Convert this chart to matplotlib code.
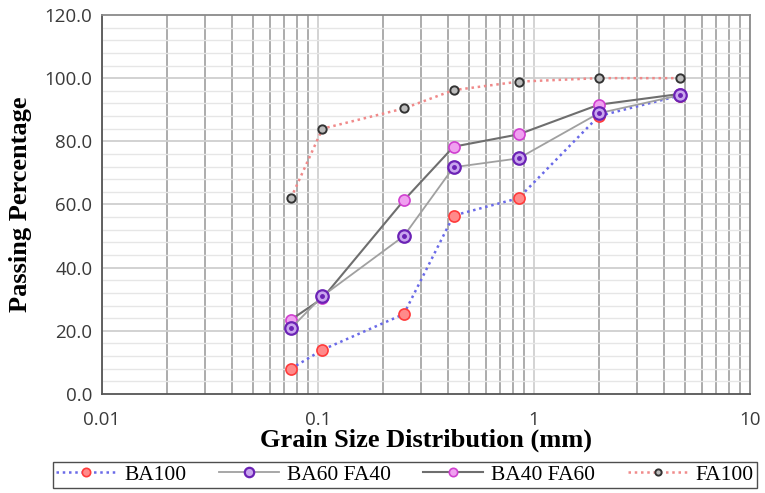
import matplotlib.pyplot as plt
import numpy as np
from matplotlib.ticker import FixedLocator, FuncFormatter

# sieve sizes (mm) and passing percentages
sizes = [0.075, 0.105, 0.25, 0.425, 0.85, 2.0, 4.75]
ba100 = [8.0, 14.0, 25.3, 56.5, 62.0, 88.0, 94.5]
ba60_fa40 = [20.8, 31.0, 50.0, 71.8, 74.6, 88.9, 94.6]
ba40_fa60 = [23.5, 30.3, 61.3, 78.3, 82.2, 91.6, 95.0]
fa100 = [62.0, 84.0, 90.4, 96.2, 98.9, 100.0, 100.0]

y_ticks = [0, 20, 40, 60, 80, 100, 120]
x_ticks = [0.01, 0.1, 1, 10]
x_labels = ["0.01", "0.1", "1", "10"]

fig = plt.figure(figsize=(7.65, 4.93), dpi=100)
ax = fig.add_axes([0.1333, 0.2008, 0.8467, 0.7688])

ax.set_xscale("log")
ax.set_xlim(0.01, 10)
ax.set_ylim(0, 120)

# grid: major x lines light, minor x lines darker (as in the original)
minor_x = [m * d for d in (0.01, 0.1, 1) for m in range(2, 10)]
for xv in minor_x:
    ax.axvline(xv, color="#a6a6a6", lw=1.3, zorder=0)
for xv in x_ticks:
    ax.axvline(xv, color="#d0d0d0", lw=1.3, zorder=0)
for yv in np.arange(4, 120, 4):
    if yv % 20:
        ax.axhline(yv, color="#e6e6e6", lw=1.0, zorder=0)
    else:
        ax.axhline(yv, color="#cfcfcf", lw=1.3, zorder=0)

ax.plot(sizes, ba100, ls=(0, (1, 1.5)), color="#6a6ae8", lw=1.8,
        marker="o", ms=8, mfc="#ff8a8a", mec="#ff3b3b", mew=1.2,
        label="BA100", zorder=3)
ax.plot(sizes, ba60_fa40, ls="-", color="#a0a0a0", lw=1.3,
        marker="o", ms=9, mfc="#c9a6ee", mec="#6b22b5", mew=1.6,
        label="BA60 FA40", zorder=4)
ax.plot(sizes, ba60_fa40, ls="none", marker="o", ms=2.5, mfc="#6b22b5",
        mec="#6b22b5", zorder=5)
ax.plot(sizes, ba40_fa60, ls="-", color="#6e6e6e", lw=1.5,
        marker="o", ms=8, mfc="#f0a0f0", mec="#d040d0", mew=1.2,
        label="BA40 FA60", zorder=3)
ax.plot(sizes, fa100, ls=(0, (1, 1.5)), color="#f08a8a", lw=1.8,
        marker="o", ms=6, mfc="#bdbdbd", mec="#333333", mew=1.4,
        label="FA100", zorder=3)

ax.yaxis.set_major_locator(FixedLocator(y_ticks))
ax.yaxis.set_major_formatter(FuncFormatter(lambda v, p: f"{v:.1f}"))
ax.xaxis.set_major_locator(FixedLocator(x_ticks))
ax.xaxis.set_major_formatter(FuncFormatter(lambda v, p: x_labels[x_ticks.index(v)] if v in x_ticks else ""))
ax.xaxis.set_minor_locator(FixedLocator([]))
ax.tick_params(axis="both", length=0, labelsize=13.5, labelcolor="#3a3a3a")
ax.tick_params(axis="x", pad=12)
ax.tick_params(axis="y", pad=7)
for lab in ax.get_xticklabels() + ax.get_yticklabels():
    lab.set_fontfamily("Open Sans")

for side in ["left", "bottom"]:
    ax.spines[side].set_color("#555555")
    ax.spines[side].set_linewidth(1.3)
for side in ["top", "right"]:
    ax.spines[side].set_color("#8a8a8a")
    ax.spines[side].set_linewidth(1.3)

ax.set_xlabel("Grain Size Distribution (mm)", fontfamily="Liberation Serif",
              fontweight="bold", fontsize=19, labelpad=0)
ax.set_ylabel("Passing Percentage", fontfamily="Liberation Serif",
              fontweight="bold", fontsize=19, labelpad=9)

leg = fig.legend(loc="lower center", ncol=4, mode="expand",
                 bbox_to_anchor=(0.0693, 0.010, 0.920, 0.055),
                 prop={"family": "Liberation Serif", "size": 15.5},
                 frameon=True, fancybox=False, handlelength=2.8,
                 borderpad=0.15, handletextpad=0.35, borderaxespad=0,
                 markerscale=0.75)
leg.get_frame().set_edgecolor("#222222")
leg.get_frame().set_linewidth(1.0)

fig.savefig("out.png", dpi=100)
